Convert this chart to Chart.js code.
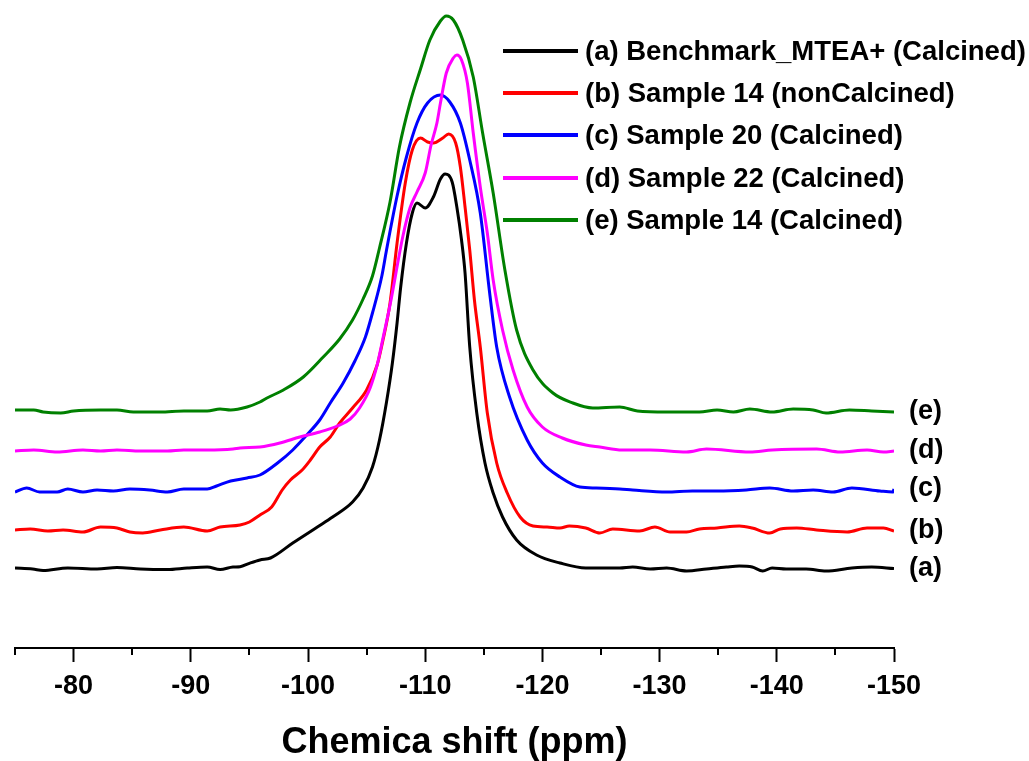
<!DOCTYPE html>
<html>
<head>
<meta charset="utf-8">
<script src="https://cdn.jsdelivr.net/npm/chart.js@4/dist/chart.umd.min.js"></script>
<style>
  body { margin: 0; background: #fff; }
  #wrap { position: relative; width: 1029px; height: 761px; }
  #legend {
    position: absolute; left: 503px; top: 30px;
    font: bold 27.5px "Liberation Sans", Arial, sans-serif; color: #000;
  }
  .legend-row { display: flex; align-items: center; height: 42.2px; white-space: nowrap; }
  .legend-line { width: 75px; height: 4px; margin-right: 7px; }
</style>
</head>
<body>
<div id="wrap">
  <canvas id="nmr" width="1029" height="761"></canvas>
  <div id="legend"></div>
</div>
<script>
// ─── Data (chemical shift in ppm, intensity with stacking offset) ─────────

const seriesLabels = [
  '(a) Benchmark_MTEA+ (Calcined)',
  '(b) Sample 14 (nonCalcined)',
  '(c) Sample 20 (Calcined)',
  '(d) Sample 22 (Calcined)',
  '(e) Sample 14 (Calcined)',
];
const tagLabels = ['(a)', '(b)', '(c)', '(d)', '(e)'];
const seriesColors = ['#000000', '#ff0000', '#0000ff', '#ff00ff', '#008000'];

const majorTicks = [-80, -90, -100, -110, -120, -130, -140, -150];
const minorTicks = [-75, -85, -95, -105, -115, -125, -135, -145];

const seriesA = [
  [-75, 80], [-76.5, 79], [-77.4, 77.5], [-79.5, 80], [-82, 79], [-83.7, 80.5],
  [-85.7, 79], [-88, 78.5], [-89.7, 80], [-91.4, 81], [-92.5, 78.5], [-93.6, 81],
  [-94.2, 81.3], [-95, 84.7], [-95.9, 88], [-96.8, 90], [-98.7, 105], [-100.8, 121],
  [-102.1, 131], [-103.8, 146], [-104.7, 160], [-105.5, 181], [-106.1, 208],
  [-106.7, 246], [-107.2, 285], [-107.6, 325], [-107.9, 360], [-108.4, 405],
  [-108.9, 435], [-109.3, 445], [-110.0, 440], [-110.7, 451], [-111.3, 469],
  [-111.7, 474], [-112.3, 466], [-112.7, 441], [-113.1, 408], [-113.4, 375],
  [-113.8, 301], [-114.4, 235], [-115.1, 185], [-115.8, 155], [-116.6, 131],
  [-117.8, 108], [-119.5, 93], [-121.5, 85], [-123.7, 80], [-126.6, 80],
  [-127.7, 81], [-129.2, 79], [-130.6, 80], [-132.3, 77], [-134.0, 79],
  [-135.7, 81], [-136.8, 82], [-137.9, 81], [-138.8, 77], [-139.6, 80],
  [-140.8, 79], [-142.5, 79], [-144.2, 77], [-146.4, 80], [-148.1, 81], [-150, 79.5],
];

const seriesB = [
  [-75, 118], [-76.3, 119], [-77.8, 117], [-79.1, 118], [-80.8, 116], [-82.3, 121],
  [-83.7, 120], [-84.8, 116], [-85.9, 115], [-87.4, 118], [-89.4, 121], [-91.4, 117],
  [-92.5, 121], [-94.2, 123], [-95, 126], [-95.9, 133], [-96.9, 141], [-97.8, 158],
  [-98.5, 168], [-99.5, 178], [-100.2, 188], [-101.0, 201], [-101.9, 211],
  [-102.7, 225], [-103.8, 240], [-105.0, 258], [-105.9, 283], [-106.4, 308],
  [-107.0, 345], [-107.6, 405], [-108.3, 465], [-108.9, 498],
  [-109.6, 510], [-110.2, 506], [-110.7, 505], [-111.5, 510], [-112.0, 514],
  [-112.6, 505], [-113.0, 481], [-113.4, 441], [-113.8, 398], [-114.2, 348],
  [-114.7, 301], [-115.3, 235], [-116.1, 185], [-117.0, 155], [-118.1, 131],
  [-119.2, 122], [-120.4, 121], [-121.5, 120], [-122.3, 122], [-123.7, 120],
  [-124.9, 115], [-126.0, 119], [-128.3, 117], [-129.6, 121], [-130.9, 116],
  [-132.3, 116], [-133.4, 119], [-134.9, 120], [-136.8, 122], [-137.9, 120],
  [-139.4, 115], [-140.3, 119], [-141.7, 120], [-143.4, 118], [-146.0, 116],
  [-147.7, 120], [-149.1, 120], [-150, 117],
];

const seriesC = [
  [-75, 156], [-76.0, 160], [-77.1, 156], [-78.6, 156], [-79.5, 159], [-80.8, 156],
  [-82.0, 158], [-83.4, 157], [-84.8, 159], [-86.5, 158], [-88.0, 156], [-89.4, 159],
  [-91.4, 159], [-92.2, 162], [-93.4, 167], [-94.8, 170], [-95.9, 173], [-97.4, 185],
  [-98.7, 198], [-99.9, 213], [-101.0, 228], [-101.9, 245], [-103.0, 265],
  [-104.0, 287], [-104.9, 311], [-105.5, 335], [-106.3, 372],
  [-106.7, 398], [-107.6, 452], [-108.4, 491], [-109.3, 525],
  [-110.2, 545], [-111.3, 553], [-112.1, 546], [-113.0, 525],
  [-113.8, 488], [-114.7, 435], [-115.5, 355], [-116.1, 301],
  [-117.2, 251], [-118.7, 208], [-120.0, 185], [-121.5, 171], [-123.2, 161],
  [-124.6, 160], [-126.6, 159], [-127.7, 158], [-130.6, 156], [-132.8, 157],
  [-134.9, 157], [-137.4, 158], [-139.4, 160], [-141.4, 157], [-143.1, 158],
  [-144.8, 156], [-146.4, 160], [-148.8, 157], [-149.9, 156], [-150, 159],
];

const seriesD = [
  [-75, 197], [-76.6, 198], [-78.6, 196], [-80.8, 198], [-82.3, 197], [-83.7, 198],
  [-85.7, 197], [-88, 197], [-89.4, 198], [-91.4, 198], [-93.6, 199], [-94.2, 200],
  [-95.9, 201], [-97.6, 205], [-99.3, 211], [-101.0, 216], [-102.5, 222],
  [-103.6, 229], [-104.4, 240], [-105.3, 260], [-105.9, 283], [-106.4, 310],
  [-107.0, 343], [-108.1, 412], [-108.7, 440], [-109.3, 456],
  [-110.0, 475], [-110.5, 503], [-111.0, 525], [-111.3, 545], [-111.8, 575],
  [-112.4, 590], [-112.7, 593], [-113.1, 588], [-113.6, 565], [-114.1, 515],
  [-114.7, 461], [-115.3, 415], [-115.8, 368], [-116.6, 318], [-117.5, 278],
  [-118.7, 241], [-120.0, 221], [-121.7, 210], [-123.7, 203], [-124.9, 201],
  [-126.8, 198], [-129.2, 198], [-132.3, 196], [-134.0, 199], [-137.7, 196],
  [-139.6, 198], [-143.4, 199], [-145.4, 196], [-147.7, 198], [-149.1, 196], [-150, 197],
];

const seriesE = [
  [-75, 238], [-76.6, 238], [-77.4, 236], [-78.9, 235], [-80.0, 237], [-82.3, 238],
  [-83.7, 238], [-85.1, 236], [-87.4, 236], [-89.4, 237], [-91.4, 237], [-92.5, 239],
  [-93.4, 238], [-94.8, 241], [-95.9, 246], [-96.5, 250], [-97.9, 258], [-99.6, 271],
  [-101.3, 291], [-102.7, 309], [-103.8, 328], [-104.7, 349], [-105.5, 372],
  [-106.1, 400], [-107.0, 446], [-107.8, 501], [-108.7, 545], [-109.6, 579],
  [-110.4, 608], [-111.3, 627], [-111.8, 632], [-112.4, 628], [-113.2, 608],
  [-114.1, 571], [-114.9, 515], [-115.8, 455], [-116.8, 378], [-117.8, 318],
  [-119.2, 278], [-120.9, 255], [-122.6, 245], [-124.3, 240], [-126.6, 241],
  [-128.1, 237], [-130.6, 236], [-133.4, 236], [-134.9, 238], [-136.3, 236],
  [-137.7, 239], [-139.6, 236], [-141.4, 239], [-143.1, 238], [-144.2, 235],
  [-146.2, 238], [-148.1, 237], [-150, 236],
];

const allSeries = [seriesA, seriesB, seriesC, seriesD, seriesE];

// ─── Plugins ──────────────────────────────────────────────────────────────

const FONT = '"Liberation Sans", Arial, sans-serif';

// short minor ticks between the labelled ones
const minorTickPlugin = {
  id: 'minorTicks',
  afterDraw(chart) {
    const { ctx } = chart;
    const x = chart.scales.x;
    ctx.save();
    ctx.strokeStyle = '#000';
    ctx.lineWidth = 2;
    minorTicks.forEach(v => {
      const px = Math.round(x.getPixelForValue(v));
      ctx.beginPath();
      ctx.moveTo(px, x.top);
      ctx.lineTo(px, x.top + 7);
      ctx.stroke();
    });
    ctx.restore();
  },
};

// (a)...(e) tags to the right of each trace end
const traceTagPlugin = {
  id: 'traceTags',
  afterDatasetsDraw(chart) {
    const { ctx } = chart;
    ctx.save();
    ctx.font = `bold 27px ${FONT}`;
    ctx.fillStyle = '#000';
    ctx.textBaseline = 'middle';
    chart.data.datasets.forEach((ds, i) => {
      const pts = chart.getDatasetMeta(i).data;
      const last = pts[pts.length - 1];
      ctx.fillText(tagLabels[i], last.x + 15, last.y);
    });
    ctx.restore();
  },
};

// ─── Chart ────────────────────────────────────────────────────────────────

const chart = new Chart(document.getElementById('nmr'), {
  type: 'line',
  data: {
    datasets: allSeries.map((s, i) => ({
      label: seriesLabels[i],
      data: s.map(([x, y]) => ({ x, y })),
      borderColor: seriesColors[i],
      borderWidth: 3,
      pointRadius: 0,
      cubicInterpolationMode: 'monotone',
      fill: false,
      order: allSeries.length - i,
    })),
  },
  options: {
    responsive: false,
    animation: false,
    layout: { padding: { left: 15, right: 135, top: 8, bottom: 0 } },
    plugins: {
      legend: { display: false },
      tooltip: { enabled: false },
    },
    scales: {
      x: {
        type: 'linear',
        min: -150,
        max: -75,
        reverse: true,
        afterBuildTicks: scale => { scale.ticks = majorTicks.map(v => ({ value: v })); },
        afterFit: scale => { scale.height = 113; },
        border: { display: true, color: '#000', width: 2 },
        grid: { drawOnChartArea: false, drawTicks: true, tickLength: 14, tickWidth: 2, tickColor: '#000' },
        ticks: {
          color: '#000',
          padding: 8,
          maxRotation: 0,
          font: { family: FONT, size: 27, weight: 'bold' },
        },
        title: {
          display: true,
          text: 'Chemica shift (ppm)',
          color: '#000',
          font: { family: FONT, size: 36, weight: 'bold', lineHeight: 1 },
          padding: { top: 0, bottom: 0 },
        },
      },
      y: {
        display: false,
        min: 0,
        max: 640,
      },
    },
  },
  plugins: [minorTickPlugin, traceTagPlugin],
});

// legend rows built from the datasets
document.getElementById('legend').innerHTML = chart.data.datasets.map(ds => `
  <div class="legend-row">
    <span class="legend-line" style="background:${ds.borderColor}"></span>
    <span>${ds.label}</span>
  </div>
`).join('');
</script>
</body>
</html>
